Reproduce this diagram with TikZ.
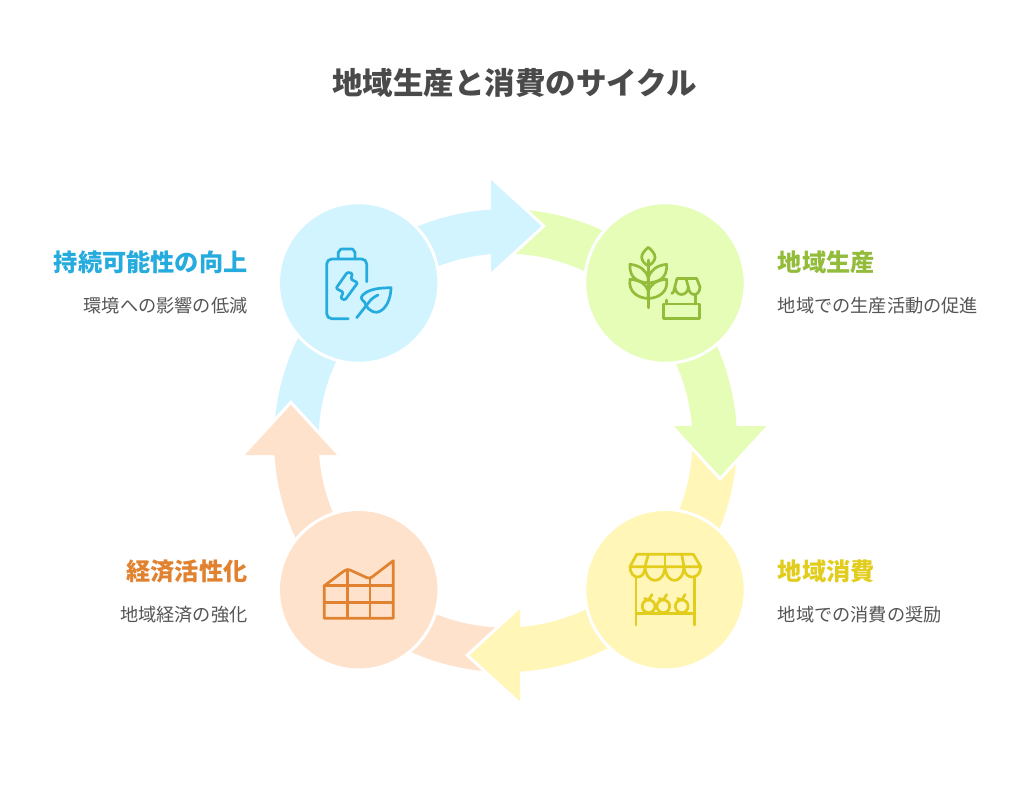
\documentclass[tikz,border=0pt]{standalone}
\usepackage{fontspec}
\setmainfont{Noto Sans CJK JP}
\definecolor{blueFill}{HTML}{D1F4FF}
\definecolor{greenFill}{HTML}{E6FDB8}
\definecolor{yellowFill}{HTML}{FFF6B8}
\definecolor{orangeFill}{HTML}{FFE2CB}
\definecolor{blueInk}{HTML}{25ABDD}
\definecolor{greenInk}{HTML}{93BC3A}
\definecolor{yellowInk}{HTML}{E3CD1C}
\definecolor{orangeInk}{HTML}{E08230}
\definecolor{titleInk}{HTML}{4A4A4A}
\definecolor{bodyInk}{HTML}{555555}
\tikzset{
  hub/.style={circle,minimum size=160.5pt,inner sep=0pt,line width=3pt,draw=white,fill=#1},
  icon/.style={line width=2.7pt,line cap=round,line join=round,draw=#1},
  titletext/.style={text=titleInk,font=\fontsize{30.5}{36}\selectfont\bfseries,anchor=center,inner sep=0pt},
  headleft/.style={text=#1,font=\fontsize{24.2}{30}\selectfont\bfseries,anchor=east,inner sep=0pt},
  headright/.style={text=#1,font=\fontsize{24.2}{30}\selectfont\bfseries,anchor=west,inner sep=0pt},
  bodyleft/.style={text=bodyInk,font=\fontsize{18.2}{24}\selectfont,anchor=east,inner sep=0pt},
  bodyright/.style={text=bodyInk,font=\fontsize{18.2}{24}\selectfont,anchor=west,inner sep=0pt},
}
\begin{document}
\begin{tikzpicture}[x=1pt,y=-1pt]
\useasboundingbox (0,0) rectangle (1024,794);
\fill[white] (0,0) rectangle (1024,794);

% ring bands, one per colour, each from under the previous head to its own head
\foreach \col/\rot in {blueFill/0,greenFill/-90,yellowFill/-180,orangeFill/-270}{
  \begin{scope}[shift={(505.5,440.6)},rotate=\rot]
    \fill[\col] plot[domain=-92:-3.4,samples=50,variable=\t] ({231.5*sin(\t)},{-231.5*cos(\t)})
      -- plot[domain=-4.3:-92,samples=50,variable=\t] ({187*sin(\t)},{-187*cos(\t)}) -- cycle;
  \end{scope}
}
% arrow heads, with a white edge on the two slanted sides
\foreach \col/\rot in {blueFill/0,greenFill/-90,yellowFill/-180,orangeFill/-270}{
  \begin{scope}[shift={(505.5,440.6)},rotate=\rot]
    \fill[\col] (-14.5,-263) -- (38.3,-214.6) -- (-14.5,-166.2) -- cycle;
    \draw[white,line width=3pt,line join=miter] (-14.5,-263) -- (38.3,-214.6) -- (-14.5,-166.2);
  \end{scope}
}

% hubs
\node[hub=blueFill] (hubBlue) at (358.7,283) {};
\node[hub=greenFill] (hubGreen) at (665,283) {};
\node[hub=yellowFill] (hubYellow) at (665,589.7) {};
\node[hub=orangeFill] (hubOrange) at (358.7,589.7) {};

% battery and leaf
\begin{scope}[icon=blueInk]
  \draw (338.3,258) -- (338.3,252) to[out=-90,in=180] (341.5,249) -- (352,249) to[out=0,in=-90] (355,252) -- (355,258);
  \draw[rounded corners=5pt] (366.7,281.7) -- (366.7,259) -- (326.7,259) -- (326.7,318.7) -- (348.3,318.7);
  \draw[rounded corners=1.2pt] (347.3,272.3) -- (352.3,273.3) -- (351,279.3) -- (357.7,282.7) -- (345,300)
        -- (340.7,298.3) -- (343.3,292.3) -- (336,288.3) -- cycle;
  \draw (391,287.7) .. controls (382,288) and (370,288) .. (362.7,295)
        .. controls (360,298) and (362,300) .. (364.5,302)
        .. controls (366,306) and (369,312) .. (376.7,312.3)
        .. controls (386,311) and (391,298) .. (391,287.7) -- cycle;
  \draw (356.7,317.7) -- (368.3,303) .. controls (371,299) and (374,297) .. (378,295);
\end{scope}

% wheat and market stall
\begin{scope}[icon=greenInk]
  \draw (648.3,260) -- (648.3,307.7);
  \draw (648.3,247.3) .. controls (644,251) and (641.7,254) .. (641.7,257.3)
        .. controls (641.7,261) and (645,264) .. (648.3,266)
        .. controls (651.6,264) and (655,261) .. (655,257.3)
        .. controls (655,254) and (652.6,251) .. (648.3,247.3) -- cycle;
  % upper pair of leaves
  \draw (630,264.3) .. controls (640,265.5) and (646,270) .. (648.3,278)
        -- (648.3,283) .. controls (640,282) and (629,280) .. (630,264.3) -- cycle;
  \draw (666.6,264.3) .. controls (656.6,265.5) and (650.6,270) .. (648.3,278)
        -- (648.3,283) .. controls (656.6,282) and (667.6,280) .. (666.6,264.3) -- cycle;
  % lower pair of leaves
  \draw (630,279.3) .. controls (640,280) and (646,284) .. (648.3,291)
        -- (648.3,298.5) .. controls (638,298) and (628,292) .. (630,279.3) -- cycle;
  \draw (666.6,279.3) .. controls (656.6,280) and (650.6,284) .. (648.3,291)
        -- (648.3,298.5) .. controls (658.6,298) and (668.6,292) .. (666.6,279.3) -- cycle;
  % stall
  \draw (663.3,304) rectangle (699.3,318.3);
  \draw (666.7,300) -- (666.7,304);
  \draw (695.7,295) -- (695.7,304);
  \draw (671.7,293.5) -- (673.5,292) -- (677,278.5) -- (696.7,278.5) -- (700,287)
        .. controls (699.5,297) and (689,297) .. (688.3,287)
        .. controls (687.5,297) and (675.5,297) .. (675,287);
  \draw (686,278.5) -- (688.3,287);
\end{scope}

% awning stall with fruit
\begin{scope}[icon=yellowInk]
  \draw (630,566.7) -- (636.7,554.3) -- (693.3,554.3) -- (700.7,566.7) -- cycle;
  \draw (648.3,554.3) -- (645,566.7);
  \draw (665,554.3) -- (665,566.7);
  \draw (681.7,554.3) -- (684,566.7);
  \draw (630,566.7) .. controls (630,580) and (645,581) .. (645,566.7)
        .. controls (646,585) and (664,585) .. (665,566.7)
        .. controls (666,585) and (683,585) .. (684,566.7)
        .. controls (684,581) and (700.7,580) .. (700.7,566.7);
  \draw (636,578) -- (636,625);
  \draw (694.3,578) -- (694.3,625);
  \draw (636,613.3) -- (694.3,613.3);
  \draw (648.6,606.3) circle[radius=6.4];
  \draw (663.3,606.3) circle[radius=6.4];
  \draw (681.7,606.3) circle[radius=6.4];
  \draw (644.5,598.5) -- (648.6,600);
  \draw (648.6,600) -- (652,594.5);
  \draw (659.2,598.5) -- (663.3,600);
  \draw (663.3,600) -- (666.7,594.5);
  \draw (677.6,598.5) -- (681.7,600);
  \draw (681.7,600) -- (685.1,594.5);
\end{scope}

% area chart over a grid
\begin{scope}[icon=orangeInk,line cap=butt]
  \draw (324.3,585.7) -- (344,571) .. controls (346,569.5) and (348,569) .. (350,570)
        -- (366.5,577.5) .. controls (368,578.5) and (370,578.5) .. (372,577) -- (393.3,560.7)
        -- (393.3,618.3) -- (324.3,618.3) -- cycle;
  \draw (324.3,585.7) -- (393.3,585.7);
  \draw (324.3,602.3) -- (393.3,602.3);
  \draw (347.3,569.7) -- (347.3,618.3);
  \draw (370,578) -- (370,618.3);
\end{scope}

% texts
\node[titletext] (title) at (514.5,83) {地域生産と消費のサイクル};
\node[headleft=blueInk] (h1) at (247.6,262) {持続可能性の向上};
\node[bodyleft] (b1) at (247.6,306) {環境への影響の低減};
\node[headright=greenInk] (h2) at (777.6,262) {地域生産};
\node[bodyright] (b2) at (777.6,306) {地域での生産活動の促進};
\node[headright=yellowInk] (h3) at (777.6,571) {地域消費};
\node[bodyright] (b3) at (777.6,615) {地域での消費の奨励};
\node[headleft=orangeInk] (h4) at (247.6,571) {経済活性化};
\node[bodyleft] (b4) at (247.6,615) {地域経済の強化};
\end{tikzpicture}
\end{document}
